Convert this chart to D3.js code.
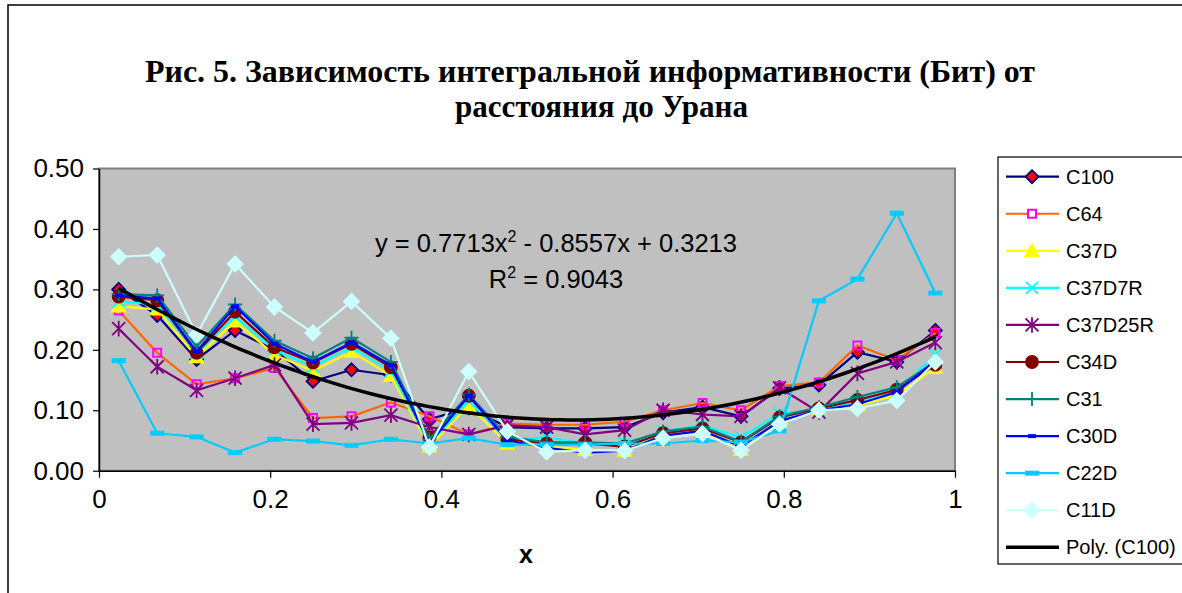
<!DOCTYPE html>
<html>
<head>
<meta charset="utf-8">
<script src="https://cdn.jsdelivr.net/npm/d3@7"></script>
<style>
  body { margin: 0; background: #fff; }
  svg { display: block; }
</style>
</head>
<body>
<svg width="1182" height="593"></svg>
<script>
// x positions of the measurements (fraction of distance)
const xValues = [0.023, 0.068, 0.114, 0.159, 0.205, 0.250, 0.295, 0.341, 0.386, 0.432, 0.477,
  0.523, 0.568, 0.614, 0.659, 0.705, 0.750, 0.795, 0.841, 0.886, 0.932, 0.977];

const c100 = [0.300, 0.257, 0.184, 0.232, 0.200, 0.148, 0.167, 0.158, 0.085, 0.104, 0.072,
  0.070, 0.070, 0.072, 0.096, 0.105, 0.090, 0.136, 0.142, 0.196, 0.180, 0.232];
const c64 = [0.265, 0.195, 0.143, 0.153, 0.170, 0.087, 0.090, 0.113, 0.090, 0.060, 0.078,
  0.076, 0.076, 0.081, 0.100, 0.112, 0.100, 0.140, 0.146, 0.207, 0.183, 0.228];
const c37d = [0.272, 0.267, 0.188, 0.247, 0.192, 0.165, 0.197, 0.157, 0.040, 0.108, 0.045,
  0.040, 0.035, 0.033, 0.060, 0.063, 0.035, 0.080, 0.100, 0.108, 0.125, 0.170];
const c37d7r = [0.280, 0.275, 0.195, 0.255, 0.200, 0.172, 0.205, 0.165, 0.045, 0.115, 0.052,
  0.055, 0.045, 0.045, 0.065, 0.075, 0.055, 0.095, 0.100, 0.115, 0.130, 0.192];
const c37d25r = [0.235, 0.172, 0.133, 0.153, 0.175, 0.077, 0.079, 0.092, 0.072, 0.060, 0.075,
  0.072, 0.060, 0.067, 0.100, 0.093, 0.090, 0.137, 0.097, 0.161, 0.180, 0.212];
const c34d = [0.288, 0.282, 0.195, 0.263, 0.204, 0.179, 0.210, 0.171, 0.055, 0.124, 0.052,
  0.045, 0.045, 0.040, 0.062, 0.070, 0.047, 0.088, 0.103, 0.117, 0.134, 0.175];
const c31 = [0.292, 0.290, 0.205, 0.275, 0.215, 0.186, 0.220, 0.180, 0.052, 0.126, 0.056,
  0.047, 0.047, 0.045, 0.065, 0.073, 0.048, 0.090, 0.105, 0.122, 0.138, 0.180];
const c30d = [0.290, 0.285, 0.197, 0.272, 0.210, 0.180, 0.212, 0.175, 0.045, 0.124, 0.050,
  0.038, 0.030, 0.033, 0.058, 0.066, 0.040, 0.082, 0.100, 0.110, 0.130, 0.182];
const c22d = [0.182, 0.062, 0.056, 0.030, 0.052, 0.049, 0.042, 0.052, 0.045, 0.054, 0.043,
  0.043, 0.043, 0.045, 0.045, 0.050, 0.047, 0.066, 0.281, 0.317, 0.426, 0.294];
const c11d = [0.354, 0.357, 0.225, 0.342, 0.271, 0.228, 0.280, 0.219, 0.039, 0.164, 0.065,
  0.031, 0.034, 0.033, 0.054, 0.061, 0.034, 0.077, 0.100, 0.103, 0.116, 0.180];

const seriesNames = ['C100', 'C64', 'C37D', 'C37D7R', 'C37D25R', 'C34D', 'C31', 'C30D', 'C22D', 'C11D'];
const seriesValues = [c100, c64, c37d, c37d7r, c37d25r, c34d, c31, c30d, c22d, c11d];

// polynomial trendline for C100, as printed on the chart
const trendCoef = [0.7713, -0.8557, 0.3213];
const trendName = 'Poly. (C100)';

const yTicks = [0, 0.1, 0.2, 0.3, 0.4, 0.5];
const xTicks = [0, 0.2, 0.4, 0.6, 0.8, 1];
const titleLines = ['Рис. 5. Зависимость интегральной информативности (Бит) от', 'расстояния до Урана'];

// look of every series: line colour, marker kind, marker stroke and fill
const styles = {
  C100: { line: '#000080', marker: 'diamond', stroke: '#000080', fill: '#ff0000', size: 6.5 },
  C64: { line: '#ff6600', marker: 'square', stroke: '#ff00ff', fill: 'none', size: 4 },
  C37D: { line: '#ffff00', marker: 'triangle', stroke: '#ffff00', fill: '#ffff00', size: 6.5 },
  C37D7R: { line: '#00ffff', marker: 'cross', stroke: '#00ffff', fill: 'none', size: 6 },
  C37D25R: { line: '#800080', marker: 'star', stroke: '#800080', fill: 'none', size: 6.5 },
  C34D: { line: '#800000', marker: 'circle', stroke: '#800000', fill: '#800000', size: 6 },
  C31: { line: '#008080', marker: 'plus', stroke: '#008080', fill: 'none', size: 7 },
  C30D: { line: '#0000ff', marker: 'dash', stroke: 'none', fill: '#0000ff', size: 4 },
  C22D: { line: '#00ccff', marker: 'longdash', stroke: 'none', fill: '#00ccff', size: 7 },
  C11D: { line: '#ccffff', marker: 'diamond', stroke: '#ccffff', fill: '#ccffff', size: 7.5 }
};

function markerPath(kind, s) {
  switch (kind) {
    case 'diamond': return `M0,${-s}L${s},0L0,${s}L${-s},0Z`;
    case 'square': return `M${-s},${-s}H${s}V${s}H${-s}Z`;
    case 'triangle': return `M0,${-s}L${s},${s * 0.8}L${-s},${s * 0.8}Z`;
    case 'cross': return `M${-s},${-s}L${s},${s}M${s},${-s}L${-s},${s}`;
    case 'star': return `M${-s},${-s}L${s},${s}M${s},${-s}L${-s},${s}M0,${-s * 1.2}V${s * 1.2}`;
    case 'plus': return `M${-s},0H${s}M0,${-s}V${s}`;
    case 'circle': return d3.symbol(d3.symbolCircle, Math.PI * s * s)();
    case 'dash': return `M${-s},-2H${s}V2H${-s}Z`;
    case 'longdash': return `M${-s},-2.5H${s}V2.5H${-s}Z`;
  }
}

const svg = d3.select('svg');
const sans = 'Liberation Sans, Arial, sans-serif';

// outer chart frame
svg.append('rect')
  .attr('x', 8).attr('y', 5).attr('width', 1190).attr('height', 600)
  .attr('fill', '#fff').attr('stroke', '#000').attr('stroke-width', 1.5);

// title, fitted to the width it has in the picture
const titleSpans = [[145, 1035], [455, 748]];
svg.append('g').selectAll('text').data(titleLines).enter().append('text')
  .attr('x', (d, i) => titleSpans[i][0])
  .attr('y', (d, i) => 82 + i * 35)
  .attr('textLength', (d, i) => titleSpans[i][1] - titleSpans[i][0])
  .attr('lengthAdjust', 'spacingAndGlyphs')
  .attr('font-family', 'Liberation Serif, Times New Roman, serif')
  .attr('font-weight', 'bold')
  .attr('font-size', 31)
  .text(d => d);

const x = d3.scaleLinear().domain([0, 1]).range([99, 955]);
const y = d3.scaleLinear().domain([0, 0.5]).range([470.7, 168.5]);

// plot area
svg.append('rect')
  .attr('x', x(0)).attr('y', y(0.5))
  .attr('width', x(1) - x(0)).attr('height', y(0) - y(0.5))
  .attr('fill', '#c0c0c0').attr('stroke', '#808080').attr('stroke-width', 2);

const yAxis = svg.append('g')
  .attr('transform', `translate(${x(0)},0)`)
  .call(d3.axisLeft(y).tickValues(yTicks).tickFormat(d3.format('.2f')).tickSize(6).tickSizeOuter(0).tickPadding(9));
const xAxis = svg.append('g')
  .attr('transform', `translate(0,${y(0)})`)
  .call(d3.axisBottom(x).tickValues(xTicks).tickFormat(d => String(d)).tickSize(7).tickSizeOuter(0).tickPadding(12));

[yAxis, xAxis].forEach(g => {
  g.select('.domain').attr('stroke', '#000').attr('stroke-width', 1.5);
  g.selectAll('.tick line').attr('stroke', '#000').attr('stroke-width', 1.2);
  g.selectAll('.tick text').attr('font-family', sans).attr('font-size', 26).attr('fill', '#000');
});

svg.append('text')
  .attr('x', 526).attr('y', 563)
  .attr('text-anchor', 'middle')
  .attr('font-family', sans).attr('font-weight', 'bold').attr('font-size', 25)
  .text('x');

// series: line first, then markers, in the sheet order
const line = d3.line().x(d => x(d[0])).y(d => y(d[1]));
const plot = svg.append('g');

seriesNames.forEach((name, k) => {
  const st = styles[name];
  const pts = xValues.map((xv, i) => [xv, seriesValues[k][i]]);
  const g = plot.append('g');
  g.append('path')
    .attr('d', line(pts))
    .attr('fill', 'none').attr('stroke', st.line).attr('stroke-width', 2.2);
  g.selectAll('path.m').data(pts).enter().append('path')
    .attr('class', 'm')
    .attr('transform', d => `translate(${x(d[0])},${y(d[1])})`)
    .attr('d', markerPath(st.marker, st.size))
    .attr('fill', st.fill)
    .attr('stroke', st.stroke)
    .attr('stroke-width', st.marker === 'square' ? 2 : 1.8);
});

// trendline from first to last x
const trendX = d3.range(0, 101).map(i => xValues[0] + (xValues[xValues.length - 1] - xValues[0]) * i / 100);
const trendPts = trendX.map(t => [t, trendCoef[0] * t * t + trendCoef[1] * t + trendCoef[2]]);
plot.append('path')
  .attr('d', line(trendPts))
  .attr('fill', 'none').attr('stroke', '#000').attr('stroke-width', 3.5);

// equation label
const eq = svg.append('g').attr('font-family', sans).attr('font-size', 25.5).attr('fill', '#000');
const eq1 = eq.append('text').attr('x', 556).attr('y', 252).attr('text-anchor', 'middle');
eq1.append('tspan').text(`y = ${trendCoef[0]}x`);
eq1.append('tspan').attr('dy', -10).attr('font-size', 16).text('2');
eq1.append('tspan').attr('dy', 10).text(` - ${-trendCoef[1]}x + ${trendCoef[2]}`);
const eq2 = eq.append('text').attr('x', 556).attr('y', 288).attr('text-anchor', 'middle');
eq2.append('tspan').text('R');
eq2.append('tspan').attr('dy', -10).attr('font-size', 16).text('2');
eq2.append('tspan').attr('dy', 10).text(' = 0.9043');

// legend
const legend = svg.append('g');
legend.append('rect')
  .attr('x', 998).attr('y', 157).attr('width', 190).attr('height', 407)
  .attr('fill', '#fff').attr('stroke', '#000').attr('stroke-width', 1.2);

const legendItems = seriesNames.concat([trendName]);
const ly = d3.scalePoint().domain(legendItems).range([176.7, 547.3]);
legendItems.forEach(name => {
  const g = legend.append('g').attr('transform', `translate(0,${ly(name)})`);
  const st = styles[name];
  g.append('line')
    .attr('x1', 1006).attr('x2', 1059)
    .attr('stroke', st ? st.line : '#000')
    .attr('stroke-width', st ? 2.2 : 3.5);
  if (st) {
    g.append('path')
      .attr('transform', 'translate(1032,0)')
      .attr('d', markerPath(st.marker, st.size))
      .attr('fill', st.fill === 'none' && st.marker === 'square' ? '#fff' : st.fill)
      .attr('stroke', st.stroke)
      .attr('stroke-width', st.marker === 'square' ? 2 : 1.8);
  }
  g.append('text')
    .attr('x', 1066).attr('y', 7)
    .attr('font-family', sans).attr('font-size', 20)
    .text(name);
});
</script>
</body>
</html>
